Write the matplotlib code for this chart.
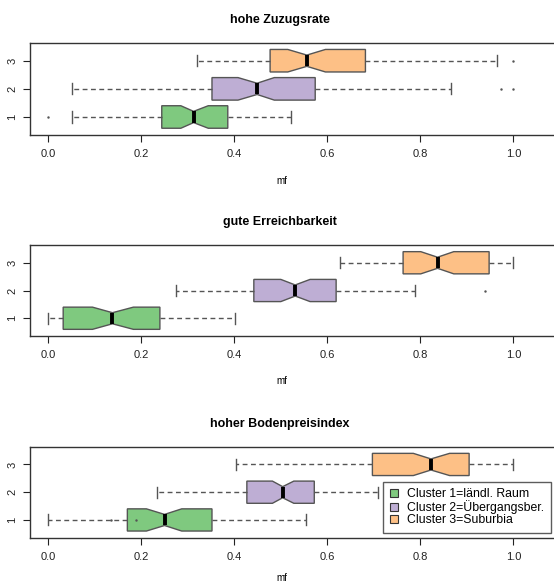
import matplotlib
matplotlib.use("Agg")
import matplotlib.pyplot as plt
from matplotlib.patches import Patch

plt.rcParams['font.family'] = ['Liberation Sans', 'DejaVu Sans']

titles = ["hohe Zuzugsrate", "gute Erreichbarkeit", "hoher Bodenpreisindex"]
clusters = ["Cluster 1=ländl. Raum", "Cluster 2=Übergangsber.", "Cluster 3=Suburbia"]
colors = ["#7FC97F", "#BEAED4", "#FDC086"]
xticks = [0.0, 0.2, 0.4, 0.6, 0.8, 1.0]
xlabel = "mf"

# per panel, per cluster: whislo, q1, cilo, med, cihi, q3, whishi
p1_stats = [
    [0.052, 0.244, 0.285, 0.3125, 0.344, 0.386, 0.522],
    [0.052, 0.352, 0.408, 0.449, 0.486, 0.574, 0.867],
    [0.320, 0.477, 0.515, 0.556, 0.596, 0.682, 0.964],
]
p1_fliers = [[0.0], [0.973, 0.999], [0.999]]

p2_stats = [
    [0.0, 0.032, 0.095, 0.138, 0.183, 0.240, 0.401],
    [0.274, 0.442, 0.500, 0.531, 0.563, 0.619, 0.788],
    [0.627, 0.763, 0.801, 0.837, 0.872, 0.948, 1.0],
]
p2_fliers = [[], [0.940], []]

p3_stats = [
    [0.0, 0.170, 0.211, 0.250, 0.287, 0.352, 0.554],
    [0.233, 0.427, 0.482, 0.504, 0.528, 0.572, 0.708],
    [0.404, 0.697, 0.785, 0.823, 0.863, 0.905, 1.0],
]
p3_fliers = [[0.134, 0.189], [], []]

panels = [(p1_stats, p1_fliers), (p2_stats, p2_fliers), (p3_stats, p3_fliers)]

W, H = 554, 584
fig = plt.figure(figsize=(W / 100, H / 100), dpi=100)

# axes frames in pixel coords (top, bottom)
frames = [(42.7, 135.0), (245.0, 336.0), (446.7, 537.7)]
title_y = [20, 222, 424]
xlabel_y = [181, 381, 578]
left_px, right_px = 29.7, 559.8
edge = "#555555"

for i, ((stats, fliers), (top, bot)) in enumerate(zip(panels, frames)):
    ax = fig.add_axes([left_px / W, 1 - bot / H, (right_px - left_px) / W, (bot - top) / H])
    bxp_stats = []
    for s, f in zip(stats, fliers):
        bxp_stats.append(dict(whislo=s[0], q1=s[1], cilo=s[2], med=s[3], cihi=s[4],
                              q3=s[5], whishi=s[6], fliers=f))
    bp = ax.bxp(bxp_stats, positions=[1, 2, 3], vert=False, widths=0.8,
                shownotches=True, patch_artist=True, capwidths=0.4,
                boxprops=dict(edgecolor=edge, linewidth=1.0),
                medianprops=dict(color="black", linewidth=2.8, solid_capstyle="butt"),
                whiskerprops=dict(color=edge, linestyle=(0, (3.5, 2.5)), linewidth=1.0),
                capprops=dict(color=edge, linewidth=1.0),
                flierprops=dict(marker='.', markersize=1.5, markerfacecolor=edge,
                                markeredgecolor=edge, linestyle='none'))
    for patch, c in zip(bp['boxes'], colors):
        patch.set_facecolor(c)
    ax.set_xlim(-0.04, 1.1)
    ax.set_ylim(0.36, 3.64)
    ax.set_xticks(xticks)
    ax.set_xticklabels([f"{t:.1f}" for t in xticks], fontsize=8, color="#222222")
    ax.set_yticks([1, 2, 3])
    ax.set_yticklabels(["1", "2", "3"], fontsize=8, rotation=90, va='center', color="#222222")
    ax.tick_params(axis='x', length=5, pad=5, color="#222222")
    ax.tick_params(axis='y', length=5, pad=4, color="#222222")
    for sp in ax.spines.values():
        sp.set_color("#333333")
        sp.set_linewidth(1.0)
    fig.text(280 / W, 1 - title_y[i] / H, titles[i], ha='center', va='center',
             fontsize=9, fontweight='bold')
    fig.text(282 / W, 1 - xlabel_y[i] / H, xlabel, ha='center', va='center', fontsize=7)

    if i == 2:
        handles = [Patch(facecolor=c, edgecolor="#333333", linewidth=0.8) for c in colors]
        leg = ax.legend(handles, clusters, loc='upper left', bbox_to_anchor=(0.6665, 0.615),
                        borderaxespad=0, fontsize=8.8, frameon=True, fancybox=False,
                        handlelength=0.7, handleheight=0.7, handletextpad=0.7,
                        labelspacing=0.0, borderpad=0.55)
        leg.get_frame().set_edgecolor("#333333")
        leg.get_frame().set_linewidth(1.0)

fig.savefig("out.png", dpi=100)
